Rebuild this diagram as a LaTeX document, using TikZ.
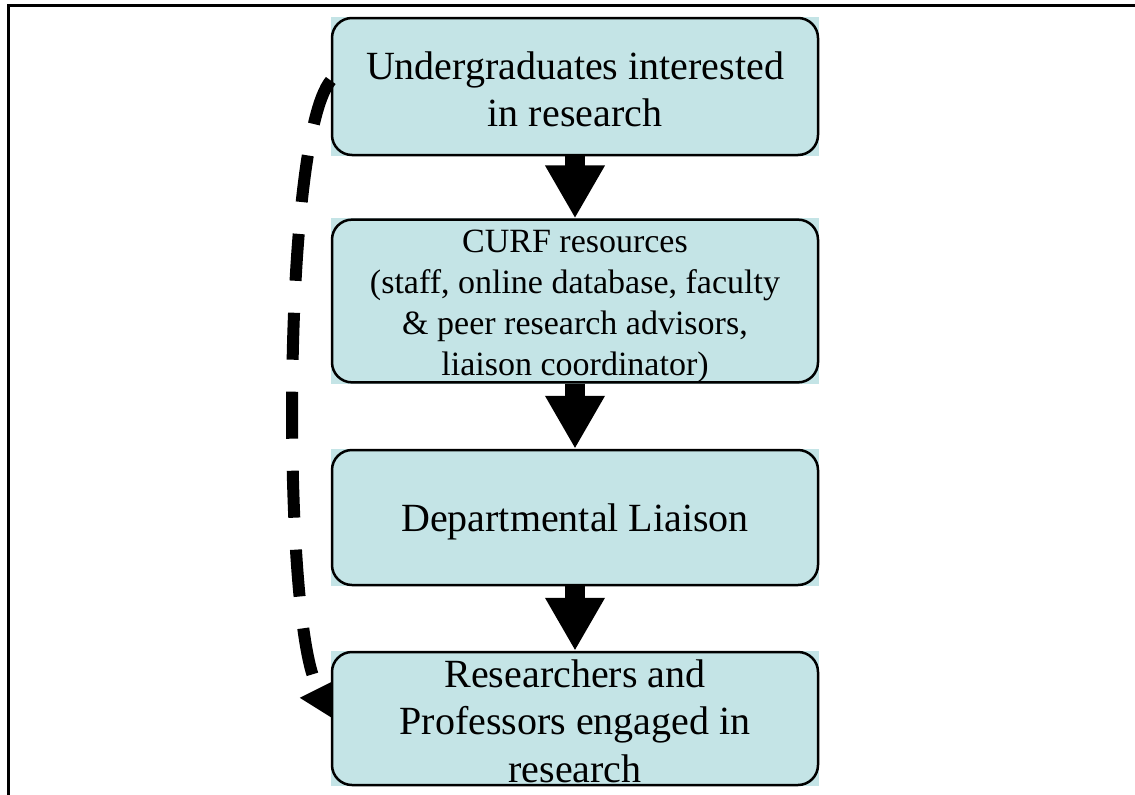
\documentclass[tikz,border=0pt]{standalone}
\usepackage{fontspec}
\setmainfont{Liberation Serif}
\usetikzlibrary{arrows.meta, positioning, calc, backgrounds}
\definecolor{boxfill}{RGB}{196,228,230}
\newcommand{\topstrut}[1]{\rule{0pt}{#1}}

\begin{document}
\begin{tikzpicture}[
    x=1pt, y=-1pt,
    box/.style={rectangle, draw, rounded corners=20pt, line width=2.5pt,
                minimum width=486pt, inner sep=0pt, align=center,
                font=\fontsize{40}{47.5}\selectfont},
    smalltext/.style={font=\fontsize{34}{41}\selectfont},
    flow/.style={line width=20pt, -{Triangle[width=56pt, length=53pt]}},
    backlink/.style={line width=12pt, dash pattern=on 47pt off 32pt},
]
\useasboundingbox (0,0) rectangle (1135,795);

% Frame
\draw[line width=3pt] (8,795) -- (8,5) -- (1135,5);

% Boxes
\node[box, minimum height=137pt] (ugrad) at (575,86.5)
    {\topstrut{33pt}Undergraduates interested\\in research};
\node[box, smalltext, minimum height=162pt] (curf) at (575,301)
    {\topstrut{32.5pt}CURF resources\\(staff, online database, faculty\\\& peer research advisors,\\liaison coordinator)};
\node[box, minimum height=135pt] (liaison) at (575,517.5)
    {\topstrut{36pt}Departmental Liaison};
\node[box, minimum height=133pt] (research) at (575,718.5)
    {\topstrut{33pt}Researchers and\\Professors engaged in\\research};

% Square fills behind the rounded outlines
\begin{scope}[on background layer]
    \foreach \n in {ugrad, curf, liaison, research}
        \fill[boxfill] (\n.south west) rectangle (\n.north east);
\end{scope}

% Block arrows
\draw[flow] (ugrad.south) -- (curf.north);
\draw[flow] (curf.south) -- (liaison.north);
\draw[flow] (liaison.south) -- (research.north);

% Dashed feedback line
\coordinate (backend) at (316,684);
\draw[backlink] ($(ugrad.west)+(0,-6)$) .. controls (282,140) and (282,610) .. (backend);
\fill ($(research.north west)+(1,31)$) -- ++(-32,16)
    -- ($(research.north west)+(1,67)$) -- cycle;
\end{tikzpicture}
\end{document}
